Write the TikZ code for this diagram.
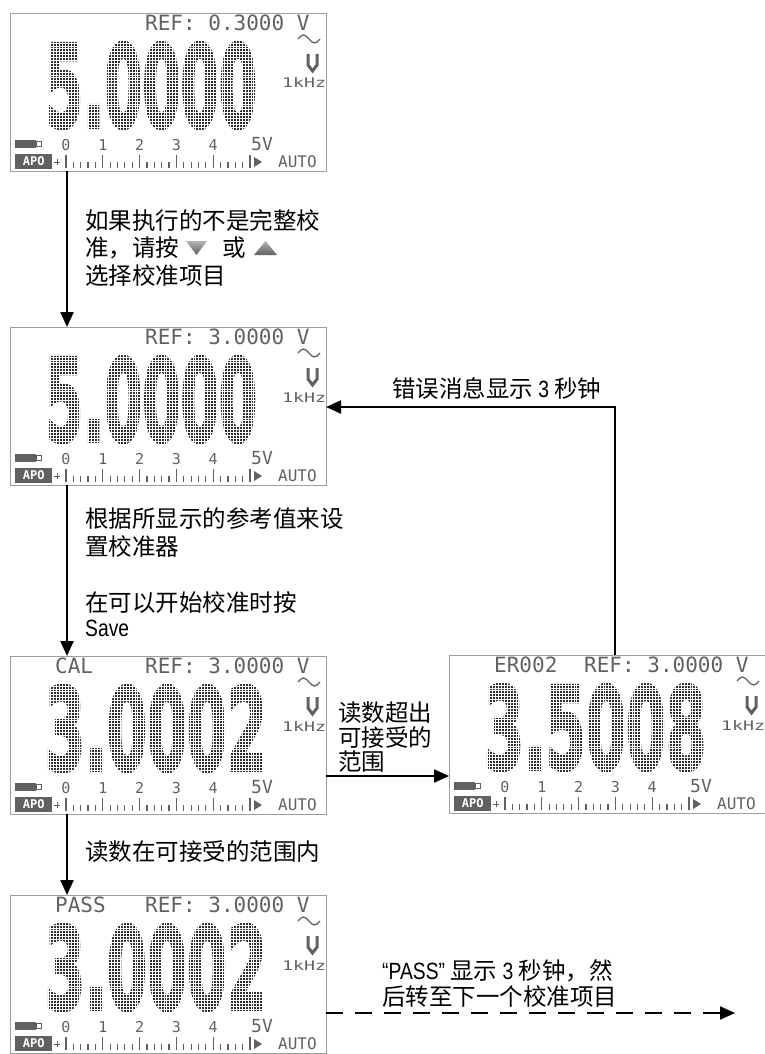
\documentclass[tikz,border=0pt]{standalone}
\usepackage{fontspec}
\usepackage{graphicx}
\setmainfont{Noto Sans CJK SC}
\newfontfamily\lcdfont{DejaVu Sans Mono}
\newfontfamily\bigfont{DejaVu Sans}[BoldFeatures={FakeBold=3}]
\newfontfamily\latinfont{Liberation Sans}
\usetikzlibrary{arrows.meta,calc}
\newcommand\lat[1]{\scalebox{0.82}[1]{\latinfont #1}}

\tikzset{
 lcdbox/.style={draw=black!38, line width=0.9pt, minimum width=316pt, minimum height=158pt, inner sep=0pt, outer sep=0pt, anchor=north west},
 lcdtext/.style={inner sep=0pt, text=black!62, font=\fontsize{21}{21}\lcdfont},
 lcdsmall/.style={inner sep=0pt, text=black!62, font=\fontsize{15}{15}\lcdfont},
 lcdpart/.style={inner sep=0pt, text=black!62},
 lcddigit/.style={inner sep=0pt, text=black!82},
 lcdline/.style={draw=black!62, line width=1.3pt},
 lcdgrid/.style={draw=white, line width=0.45pt},
 lbl/.style={inner sep=0pt, anchor=west, font=\fontsize{23.5}{28}\selectfont},
 arr/.style={line width=2.2pt, -{Triangle[length=15pt,width=13pt]}},
 keyicon/.style={top color=black!30, bottom color=black!62},
}

\newcommand\lcdpanel[7]{%
 \node[lcdbox] (#1) at (#2,#3) {};
 \begin{scope}[shift={(#2,#3)}]
  \node[lcdtext, anchor=west] (#1-tag) at (45,10) {#4};
  \node[lcdtext, anchor=west] (#1-ref) at (135,10) {REF: #6 V};
  \draw[lcdline] (288,26) sin (293.5,22) cos (299,26) sin (304.5,30) cos (310,26);
  \draw[black!62, line width=3pt] (298,41) -- (298,52) -- (302.5,58) -- (307,52) -- (307,41);
  \node[lcdpart] (#1-hz) at (294,70) {\resizebox{44pt}{10pt}{\lcdfont 1kHz}};
  \node[lcddigit] (#1-num) at (35+#7/2,72.5) {\resizebox{#7pt}{85pt}{\bigfont\bfseries #5}};
  \foreach \i in {0,...,80} \draw[lcdgrid] (32+2.9*\i,26) -- ++(0,94);
  \foreach \j in {0,...,32} \draw[lcdgrid] (30,27+2.9*\j) -- ++(234,0);
  \fill[black!62] (5,127) rectangle (26,135);
  \draw[black!62, line width=1pt] (26,128.5) rectangle (31,133.5);
  \foreach \n [count=\k from 0] in {0,1,2,3,4} \node[lcdsmall] (#1-s\n) at (56+36.8*\k,132) {\n};
  \node[lcdpart, font=\fontsize{18}{18}\lcdfont] (#1-s5) at (252,131) {5V};
  \node[fill=black!62, text=white, inner sep=0pt, minimum width=37pt, minimum height=15pt, anchor=west, font=\fontsize{12}{12}\lcdfont\bfseries] (#1-apo) at (5,148.5) {APO};
  \draw[black!62, line width=1pt] (44,149) -- (50,149) (47,146) -- (47,152);
  \foreach \k in {0,...,5} \draw[black!62, line width=1.2pt] (56+36.8*\k,142) -- ++(0,13);
  \foreach \k in {1,...,24} \draw[black!62, line width=1.2pt] (56+7.36*\k,149) -- ++(0,6);
  \fill[black!62] (244,144) -- (244,154) -- (252,149) -- cycle;
  \node[lcdpart, anchor=west, font=\fontsize{16}{16}\lcdfont] (#1-auto) at (268,149) {AUTO};
 \end{scope}}

\begin{document}
\begin{tikzpicture}[x=1pt,y=-1pt]
\useasboundingbox (0,0) rectangle (764,1054);

\lcdpanel{d1}{10}{13}{}{5.0000}{0.3000}{212}
\lcdpanel{d2}{10}{327}{}{5.0000}{3.0000}{212}
\lcdpanel{d3}{10}{656}{CAL}{3.0002}{3.0000}{222}
\lcdpanel{d4}{449}{655}{ER002}{3.5008}{3.0000}{222}
\lcdpanel{d5}{10}{895}{PASS}{3.0002}{3.0000}{222}

% vertical arrows
\coordinate (a1s) at ($(d1.south west)+(57,0)$);
\coordinate (a1e) at ($(d2.north west)+(57,0)$);
\draw[arr] (a1s) -- (a1e);
\coordinate (a2s) at ($(d2.south west)+(57,0)$);
\coordinate (a2e) at ($(d3.north west)+(57,0)$);
\draw[arr] (a2s) -- (a2e);
\coordinate (a3s) at ($(d3.south west)+(57,0)$);
\coordinate (a3e) at ($(d5.north west)+(57,0)$);
\draw[arr] (a3s) -- (a3e);

% labels step 1
\node[lbl] (t1a) at (85,220) {如果执行的不是完整校};
\node[lbl] (t1b) at (85,248) {准，请按};
\shade[keyicon] (186,241) -- (207,241) -- (196.5,255) -- cycle;
\node[lbl] (t1c) at (222,248) {或};
\shade[keyicon] (254,255) -- (277,255) -- (265.5,241) -- cycle;
\node[lbl] (t1d) at (85,276) {选择校准项目};

% labels step 2
\node[lbl] (t2a) at (85,519) {根据所显示的参考值来设};
\node[lbl] (t2b) at (85,547) {置校准器};
\node[lbl] (t2c) at (85,603) {在可以开始校准时按};
\node[lbl] (t2d) at (85,628) {\lat{Save}};

% out of range
\node[lbl] (t3a) at (338,713) {读数超出};
\node[lbl] (t3b) at (338,738) {可接受的};
\node[lbl] (t3c) at (338,762) {范围};
\coordinate (a4s) at ($(d3.north east)+(0,120)$);
\draw[arr] (a4s) -- (a4s -| d4.west);

% in range
\node[lbl] (t4) at (85,852) {读数在可接受的范围内};

% error return
\node[lbl] (t5) at (392,388) {错误消息显示 \lat{3} 秒钟};
\coordinate (a5s) at ($(d4.north west)+(166,0)$);
\coordinate (a5e) at ($(d2.north east)+(0,80)$);
\draw[arr] (a5s) |- (a5e);

% pass
\node[lbl] (t6a) at (382,971) {\lat{“PASS”} 显示 \lat{3} 秒钟，然};
\node[lbl] (t6b) at (382,997) {后转至下一个校准项目};
\coordinate (a6s) at ($(d5.north east)+(0,118)$);
\coordinate (a6e) at (735,1013);
\draw[arr, dash pattern=on 17pt off 12pt] (a6s) -- (a6e);
\end{tikzpicture}
\end{document}
